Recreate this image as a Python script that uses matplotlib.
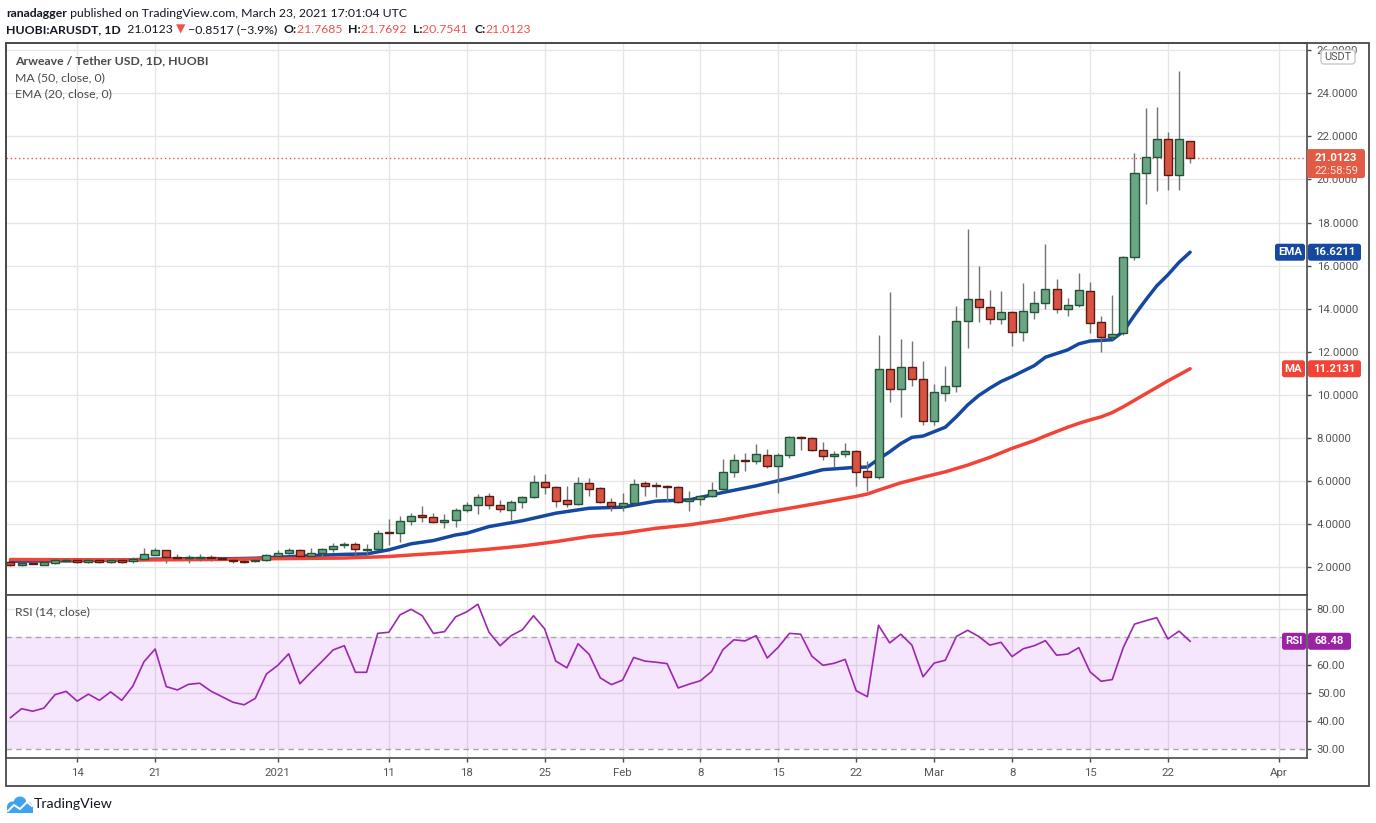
import matplotlib
matplotlib.use("Agg")
import matplotlib.pyplot as plt
import matplotlib.dates as mdates
from matplotlib.patches import FancyBboxPatch, Rectangle, Circle
import numpy as np
import pandas as pd

# ---- data (HUOBI:ARUSDT daily, UTC+8 days) ----
dates = pd.date_range("2020-12-08", periods=107, freq="D")

opens = [2.26, 2.09, 2.22, 2.12, 2.19, 2.29, 2.34, 2.23, 2.34, 2.23,
         2.33, 2.28, 2.37, 2.59, 2.79, 2.48, 2.43, 2.45, 2.48, 2.43,
         2.34, 2.31, 2.28, 2.34, 2.54, 2.65, 2.81, 2.51, 2.65, 2.84,
         3.02, 3.09, 2.82, 2.84, 3.63, 3.58, 4.14, 4.42, 4.33, 4.09,
         4.20, 4.65, 4.88, 5.29, 4.88, 4.65, 5.02, 5.26, 5.95, 5.72,
         5.12, 4.93, 5.91, 5.67, 5.02, 4.84, 4.98, 5.91, 5.78, 5.78,
         5.72, 5.07, 5.16, 5.30, 5.61, 6.42, 6.98, 6.93, 7.21, 6.70,
         7.21, 8.05, 8.00, 7.44, 7.16, 7.26, 7.38, 6.45, 6.17, 11.19,
         10.26, 11.29, 10.73, 8.81, 10.08, 10.40, 13.43, 14.45, 14.08, 13.52,
         13.84, 12.90, 13.84, 14.26, 14.91, 13.98, 14.17, 14.82, 13.38, 12.68,
         12.87, 16.40, 20.31, 21.05, 21.86, 20.22, 21.7685]
highs = [2.30, 2.24, 2.26, 2.27, 2.43, 2.43, 2.37, 2.38, 2.38, 2.38,
         2.37, 2.47, 2.91, 2.90, 2.82, 2.62, 2.59, 2.62, 2.55, 2.47,
         2.37, 2.43, 2.37, 2.60, 2.81, 2.88, 2.84, 2.90, 2.89, 3.15,
         3.18, 3.18, 3.09, 3.74, 4.26, 4.36, 4.51, 4.85, 4.51, 4.47,
         4.76, 5.04, 5.41, 5.44, 5.13, 5.13, 5.32, 6.29, 6.33, 5.76,
         5.76, 6.19, 6.14, 5.72, 5.21, 5.43, 6.09, 6.02, 5.97, 5.82,
         5.78, 5.55, 5.35, 5.97, 7.02, 7.27, 7.30, 7.74, 7.49, 7.30,
         8.11, 8.11, 8.04, 7.83, 7.38, 7.77, 7.42, 6.93, 12.79, 14.76,
         12.60, 12.51, 11.58, 10.51, 11.34, 14.14, 17.71, 16.00, 14.88, 14.83,
         13.90, 15.21, 14.80, 16.98, 15.39, 14.50, 15.67, 15.26, 13.67, 14.64,
         16.45, 21.24, 23.33, 23.36, 22.20, 25.04, 21.7692]
lows = [2.05, 2.05, 2.14, 2.10, 2.17, 2.27, 2.20, 2.20, 2.21, 2.21,
        2.21, 2.19, 2.33, 2.55, 2.22, 2.40, 2.19, 2.31, 2.31, 2.33,
        2.22, 2.22, 2.25, 2.31, 2.51, 2.62, 2.50, 2.49, 2.50, 2.69,
        2.91, 2.56, 2.50, 2.80, 3.04, 3.19, 3.98, 4.12, 4.05, 3.84,
        3.89, 4.55, 4.45, 4.70, 4.55, 4.20, 4.75, 5.22, 5.41, 4.82,
        4.79, 4.88, 5.29, 4.98, 4.60, 4.60, 4.94, 5.29, 5.26, 5.04,
        4.98, 4.60, 4.89, 5.25, 5.55, 6.21, 6.49, 6.79, 6.63, 5.46,
        7.06, 7.45, 7.38, 7.00, 6.64, 7.14, 5.78, 5.55, 6.10, 9.69,
        8.99, 10.39, 8.59, 8.59, 9.70, 10.14, 12.16, 13.36, 13.30, 13.30,
        12.25, 12.48, 13.52, 13.98, 13.78, 13.67, 14.08, 12.87, 11.97, 12.60,
        12.80, 16.28, 18.87, 19.46, 19.53, 19.53, 20.7541]
closes = [2.09, 2.20, 2.17, 2.23, 2.34, 2.34, 2.23, 2.34, 2.23, 2.34,
          2.23, 2.39, 2.60, 2.81, 2.48, 2.43, 2.48, 2.48, 2.42, 2.37,
          2.28, 2.26, 2.34, 2.57, 2.67, 2.81, 2.53, 2.65, 2.85, 2.99,
          3.09, 2.84, 2.85, 3.58, 3.57, 4.16, 4.37, 4.33, 4.09, 4.20,
          4.67, 4.88, 5.26, 4.88, 4.70, 5.02, 5.26, 5.95, 5.72, 5.07,
          4.93, 5.91, 5.63, 5.02, 4.84, 4.98, 5.86, 5.77, 5.75, 5.71,
          5.02, 5.16, 5.30, 5.58, 6.42, 6.98, 6.91, 7.27, 6.70, 7.21,
          8.05, 7.99, 7.44, 7.16, 7.27, 7.40, 6.40, 6.17, 11.19, 10.26,
          11.29, 10.73, 8.81, 10.12, 10.40, 13.44, 14.45, 14.06, 13.52, 13.84,
          12.90, 13.91, 14.26, 14.91, 13.98, 14.17, 14.87, 13.33, 12.68, 12.82,
          16.40, 20.31, 21.05, 21.86, 20.22, 21.86, 21.0123]

# EMA(20) and MA(50) (day index, value)
ema_idx = [0, 5, 10, 12, 16, 20, 22, 25, 28, 30, 32, 34, 36, 38, 40, 41, 43, 46, 49, 52,
           55, 58, 61, 64, 67, 70, 73, 76, 77, 78, 79, 80, 81, 82, 84, 85, 86, 87, 88, 89,
           90, 92, 93, 95, 96, 97, 98, 99, 100, 101, 102, 103, 104, 105, 106]
ema_val = [2.28, 2.30, 2.33, 2.37, 2.40, 2.40, 2.42, 2.49, 2.56, 2.60, 2.62, 2.81, 3.09, 3.24,
           3.50, 3.58, 3.89, 4.16, 4.51, 4.74, 4.79, 5.07, 5.13, 5.47, 5.78, 6.14, 6.53, 6.64,
           6.65, 7.02, 7.36, 7.74, 8.03, 8.09, 8.50, 8.99, 9.53, 9.97, 10.31, 10.62, 10.85,
           11.36, 11.75, 12.09, 12.37, 12.50, 12.53, 12.56, 12.95, 13.70, 14.40, 15.06, 15.57,
           16.15, 16.6211]
ma_idx = [0, 6, 12, 18, 22, 26, 30, 34, 36, 38, 40, 43, 46, 49, 52, 55, 58, 61, 64, 67,
          70, 73, 76, 77, 78, 80, 82, 84, 86, 88, 90, 92, 93, 95, 96, 97, 98, 99, 100, 101,
          102, 103, 104, 105, 106]
ma_val = [2.36, 2.35, 2.34, 2.36, 2.39, 2.41, 2.43, 2.50, 2.57, 2.64, 2.71, 2.84, 2.99, 3.19,
          3.43, 3.58, 3.81, 3.97, 4.20, 4.48, 4.74, 5.01, 5.29, 5.40, 5.58, 5.92, 6.18, 6.43,
          6.74, 7.10, 7.52, 7.88, 8.10, 8.50, 8.68, 8.84, 8.98, 9.18, 9.45, 9.75, 10.05, 10.35,
          10.65, 10.93, 11.2131]

rsi = [41.2, 44.4, 43.5, 44.6, 49.4, 50.6, 47.1, 49.6, 47.4, 50.4,
       47.4, 52.5, 61.2, 65.7, 52.3, 51.1, 53.1, 53.5, 50.7, 48.7,
       46.7, 45.8, 48.1, 56.8, 59.8, 64.0, 53.3, 57.4, 61.3, 65.4,
       66.9, 57.4, 57.4, 71.3, 71.7, 77.9, 79.9, 77.6, 71.3, 71.9,
       77.2, 79.0, 81.7, 71.7, 66.9, 70.5, 72.6, 77.6, 72.9, 61.4,
       59.0, 67.6, 63.8, 55.4, 53.0, 54.6, 62.7, 61.4, 61.0, 60.5,
       51.8, 53.2, 54.4, 57.7, 65.4, 69.0, 68.6, 70.5, 62.5, 66.4,
       71.3, 71.0, 63.2, 59.9, 60.6, 62.0, 50.8, 48.7, 74.2, 67.9,
       71.0, 67.1, 55.8, 60.7, 61.7, 70.2, 72.4, 70.2, 67.1, 68.1,
       63.0, 65.8, 66.9, 68.7, 63.5, 63.9, 66.2, 57.6, 54.2, 54.8,
       66.3, 74.6, 75.8, 76.9, 69.3, 72.1, 68.48]

tick_dates = ["2020-12-14", "2020-12-21", "2021-01-01", "2021-01-11", "2021-01-18",
              "2021-01-25", "2021-02-01", "2021-02-08", "2021-02-15", "2021-02-22",
              "2021-03-01", "2021-03-08", "2021-03-15", "2021-03-22", "2021-04-01"]
tick_labels = ["14", "21", "2021", "11", "18", "25", "Feb", "8", "15", "22",
               "Mar", "8", "15", "22", "Apr"]
price_ticks = [2, 4, 6, 8, 10, 12, 14, 16, 18, 20, 22, 24, 26]
rsi_ticks = [30, 40, 50, 60, 80]
rsi_grid = [40, 50, 60, 80]

# ---- colours ----
UP_FILL, UP_EDGE = "#6ba583", "#225437"
DN_FILL, DN_EDGE = "#d75442", "#5b1a13"
WICK = "#737375"
EMA_C = "#1548a0"
MA_C = "#f24336"
RSI_C = "#9c27b0"
GRID = "#e6e6e6"
FRAME = "#4a4a4a"
TXT = "#555555"
RED_TXT = "#ef5350"
FAM = ["Lato", "DejaVu Sans"]
AX_FAM = ["Roboto", "DejaVu Sans"]

W, H = 1376, 823
fig = plt.figure(figsize=(W / 100, H / 100), dpi=100)
fig.patch.set_facecolor("white")


def frac(x0, y0, x1, y1):
    # pixel box (top-left origin) -> figure fraction rect
    return [x0 / W, 1 - y1 / H, (x1 - x0) / W, (y1 - y0) / H]


ax = fig.add_axes(frac(6, 43, 1307, 595))
ax2 = fig.add_axes(frac(6, 595, 1307, 758))

x = mdates.date2num(dates)
o = np.array(opens)
c = np.array(closes)
hi = np.array(highs)
lo = np.array(lows)
up = c >= o
body_lo = np.minimum(o, c)
body_h = np.maximum(np.abs(c - o), 0.05)

xmin = x[0] - 0.40
xmax = x[0] + 116.5
xt = mdates.date2num(pd.to_datetime(tick_dates))

# ---- price pane ----
ax.vlines(x, lo, hi, color=WICK, lw=1.0, zorder=4)
ax.bar(x[up], body_h[up], bottom=body_lo[up], width=0.72, color=UP_FILL,
       edgecolor=UP_EDGE, linewidth=1.0, zorder=5)
ax.bar(x[~up], body_h[~up], bottom=body_lo[~up], width=0.72, color=DN_FILL,
       edgecolor=DN_EDGE, linewidth=1.0, zorder=5)
ax.plot(x[ema_idx], ema_val, color=EMA_C, lw=2.5, zorder=3, solid_capstyle="round")
ax.plot(x[ma_idx], ma_val, color=MA_C, lw=2.5, zorder=3, solid_capstyle="round")
ax.axhline(c[-1], color=RED_TXT, lw=1.0, ls=(0, (1, 2)), zorder=2)

ax.set_xlim(xmin, xmax)
ax.set_ylim(0.714, 26.33)
ax.set_xticks(xt)
ax.set_yticks(price_ticks)
ax.set_yticklabels(["%.4f" % v for v in price_ticks])
ax.yaxis.tick_right()
ax.tick_params(axis="x", length=0, labelbottom=False)
ax.tick_params(axis="y", length=3, width=1, color=FRAME, labelcolor=TXT,
               labelsize=8.2, pad=4)
for lab in ax.get_yticklabels():
    lab.set_family(AX_FAM)
ax.grid(True, color=GRID, lw=1)
ax.set_axisbelow(True)
for s in ax.spines.values():
    s.set_color(FRAME)
    s.set_linewidth(1.2)

# ---- RSI pane ----
ax2.axhspan(30, 70, color="#b53cf0", alpha=0.13, lw=0, zorder=1)
for v in rsi_grid:
    ax2.axhline(v, color=GRID, lw=1, zorder=0.5)
ax2.axhline(70, color="#a8a8a8", lw=1, ls=(0, (4, 3)), zorder=1.5)
ax2.axhline(30, color="#a8a8a8", lw=1, ls=(0, (4, 3)), zorder=1.5)
ax2.plot(x, rsi, color=RSI_C, lw=1.2, zorder=3)
ax2.set_xlim(xmin, xmax)
ax2.set_ylim(26.8, 85.0)
ax2.set_xticks(xt)
ax2.set_xticklabels(tick_labels)
ax2.set_yticks(rsi_ticks)
ax2.set_yticklabels(["%.2f" % v for v in rsi_ticks])
ax2.yaxis.tick_right()
ax2.grid(True, axis="x", color=GRID, lw=1)
ax2.set_axisbelow(True)
ax2.tick_params(axis="x", length=3, width=1, color=FRAME, labelcolor=TXT,
                labelsize=8.2, pad=4)
ax2.tick_params(axis="y", length=3, width=1, color=FRAME, labelcolor=TXT,
                labelsize=8.2, pad=4)
for lab in ax2.get_xticklabels() + ax2.get_yticklabels():
    lab.set_family(AX_FAM)
for s in ax2.spines.values():
    s.set_color(FRAME)
    s.set_linewidth(1.2)

# ---- overlay in pixel coordinates ----
ov = fig.add_axes([0, 0, 1, 1])
ov.set_xlim(0, W)
ov.set_ylim(H, 0)
ov.axis("off")

ov.add_patch(Rectangle((6, 43), 1369 - 6, 786 - 43, fill=False, ec=FRAME, lw=1.3))

renderer = fig.canvas.get_renderer()


def run_text(x0, y, pieces, size):
    xx = x0
    objs = []
    for s, wt, col, fam in pieces:
        t = ov.text(xx, y, s, fontsize=size, fontweight=wt, color=col,
                    family=fam, va="center", ha="left")
        xx += t.get_window_extent(renderer).width
        objs.append(t)
    return xx, objs


line1 = [("ranadagger", "bold", "#131722", FAM),
         (" published on TradingView.com, March 23, 2021 17:01:04 UTC", "normal", "#131722", FAM)]
line2 = [("HUOBI:ARUSDT, 1D", "bold", "#131722", FAM),
         ("  21.0123 ", "normal", "#131722", FAM),
         ("\u25bc", "normal", RED_TXT, ["DejaVu Sans"]),
         (" \u22120.8517 (\u22123.9%)  ", "normal", "#131722", FAM),
         ("O:", "bold", "#131722", FAM), ("21.7685  ", "normal", RED_TXT, FAM),
         ("H:", "bold", "#131722", FAM), ("21.7692  ", "normal", RED_TXT, FAM),
         ("L:", "bold", "#131722", FAM), ("20.7541  ", "normal", RED_TXT, FAM),
         ("C:", "bold", "#131722", FAM), ("21.0123", "normal", RED_TXT, FAM)]

# fit the header font size to the reference line width
end, objs = run_text(6, 29, line2, 10)
for t in objs:
    t.remove()
hsize = 10 * (530 - 6) / (end - 6)
run_text(6, 13.5, line1, hsize)
run_text(6, 29.5, line2, hsize)

# pane legends
ov.text(15, 61, "Arweave / Tether USD, 1D, HUOBI", fontsize=hsize, fontweight="bold",
        color="#4a4a4a", family=FAM, va="center")
ov.text(15, 77.5, "MA (50, close, 0)", fontsize=hsize, color="#4a4a4a", family=FAM, va="center")
ov.text(15, 94, "EMA (20, close, 0)", fontsize=hsize, color="#4a4a4a", family=FAM, va="center")
ov.text(15, 612, "RSI (14, close)", fontsize=hsize, color="#4a4a4a", family=FAM, va="center")


def ypix(a, v):
    return H - a.transData.transform((0, v))[1]


def tag(x0, w, yc, h, text, fc, bold=True):
    ov.add_patch(FancyBboxPatch((x0, yc - h / 2), w, h,
                                boxstyle="round,pad=0,rounding_size=2.5",
                                fc=fc, ec="none", zorder=6))
    ov.text(x0 + w / 2, yc, text, color="white", fontsize=8.2,
            fontweight="bold" if bold else "normal", family=AX_FAM,
            ha="center", va="center", zorder=7)


# USDT unit box
ov.add_patch(FancyBboxPatch((1321, 50), 34, 14, boxstyle="round,pad=0,rounding_size=3",
                            fc="white", ec="#c8c8c8", lw=1, zorder=6))
ov.text(1338, 57, "USDT", color=TXT, fontsize=7.8, family=AX_FAM,
        ha="center", va="center", zorder=7)

# last price label
yc = ypix(ax, c[-1])
ov.add_patch(FancyBboxPatch((1307, yc - 8.5), 58, 29,
                            boxstyle="round,pad=0,rounding_size=2.5",
                            fc="#e35a45", ec="none", zorder=6))
ov.text(1336, yc, "%.4f" % c[-1], color="white", fontsize=8.2, fontweight="bold",
        family=AX_FAM, ha="center", va="center", zorder=7)
ov.text(1336, yc + 13, "22:58:59", color="#fde3df", fontsize=8.2,
        family=AX_FAM, ha="center", va="center", zorder=7)

# indicator labels
ye = ypix(ax, ema_val[-1])
tag(1275, 30, ye, 17, "EMA", EMA_C)
tag(1308, 53, ye, 17, "%.4f" % ema_val[-1], EMA_C)
ym = ypix(ax, ma_val[-1])
tag(1282, 23, ym, 17, "MA", MA_C)
tag(1308, 53, ym, 17, "%.4f" % ma_val[-1], MA_C)
yr = ypix(ax2, rsi[-1])
tag(1282, 24, yr, 17, "RSI", "#9a22a5")
tag(1308, 43, yr, 17, "%.2f" % rsi[-1], "#9a22a5")

# TradingView logo
for cx, cy, r in [(12.5, 807, 5.5), (20, 803, 6.5), (27.5, 807, 5)]:
    ov.add_patch(Circle((cx, cy), r, fc="#3fa2ef", ec="none"))
ov.add_patch(Rectangle((7, 806), 26, 6.5, fc="#3fa2ef", ec="none"))
ov.plot([8, 14, 20, 27, 32], [811, 805, 809, 802, 806], color="white", lw=1.4)
ov.text(34, 804, "TradingView", fontsize=10.2, color="#131722", family=FAM, va="center")

fig.savefig("out.png", dpi=100)
